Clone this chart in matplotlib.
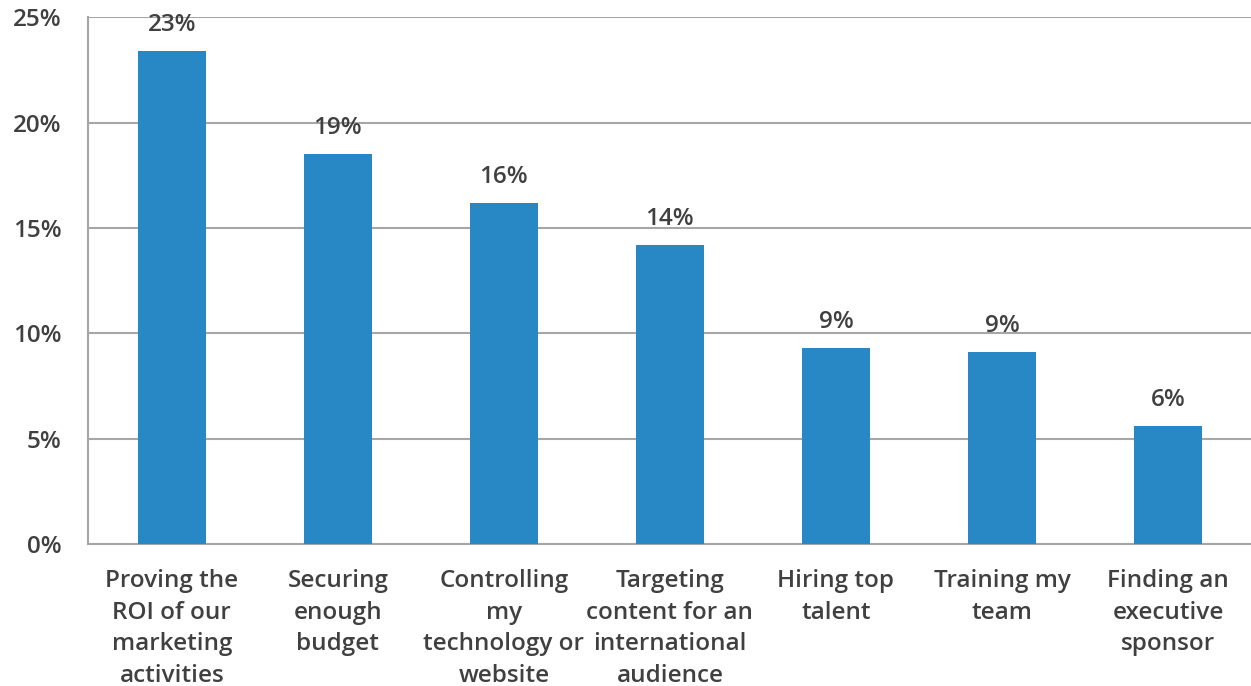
import matplotlib.pyplot as plt

categories = ['Proving the\nROI of our\nmarketing\nactivities', 'Securing\nenough\nbudget',
              'Controlling\nmy\ntechnology or\nwebsite', 'Targeting\ncontent for an\ninternational\naudience',
              'Hiring top\ntalent', 'Training my\nteam', 'Finding an\nexecutive\nsponsor']
values = [23.4, 18.5, 16.2, 14.2, 9.3, 9.1, 5.6]
labels = ['23%', '19%', '16%', '14%', '9%', '9%', '6%']
yticks = [0, 5, 10, 15, 20, 25]

plt.rcParams['font.family'] = ['Open Sans', 'DejaVu Sans']
txt = '#404040'
grid = '#a6a6a6'

fig = plt.figure(figsize=(12.51, 6.86), dpi=100)
ax = fig.add_axes([0.0703, 0.207, 0.9297, 0.768])

x = range(len(values))
bars = ax.bar(x, values, width=0.41, color='#2888c6', zorder=3)
for b, lab in zip(bars, labels):
    ax.annotate(lab, (b.get_x() + b.get_width() / 2, b.get_height()), xytext=(0, 10),
                textcoords='offset points', ha='center', va='bottom',
                fontsize=17.5, fontweight='semibold', color=txt, zorder=4)

ax.set_xlim(-0.505, 6.5)
ax.set_ylim(0, 25)
ax.set_yticks(yticks)
ax.set_yticklabels([f'{v}%' for v in yticks])
ax.set_xticks(list(x))
ax.set_xticklabels(categories, linespacing=1.43)
ax.yaxis.grid(True, color=grid, linewidth=1.5, zorder=0)
ax.tick_params(axis='both', length=0, labelsize=17.5, labelcolor=txt)
ax.tick_params(axis='x', pad=18)
ax.tick_params(axis='y', pad=19)
for t in ax.get_xticklabels() + ax.get_yticklabels():
    t.set_fontweight('semibold')
for s in ['top', 'right']:
    ax.spines[s].set_visible(False)
for s in ['left', 'bottom']:
    ax.spines[s].set_color(grid)
    ax.spines[s].set_linewidth(1.5)

fig.savefig('out.png', dpi=100)
